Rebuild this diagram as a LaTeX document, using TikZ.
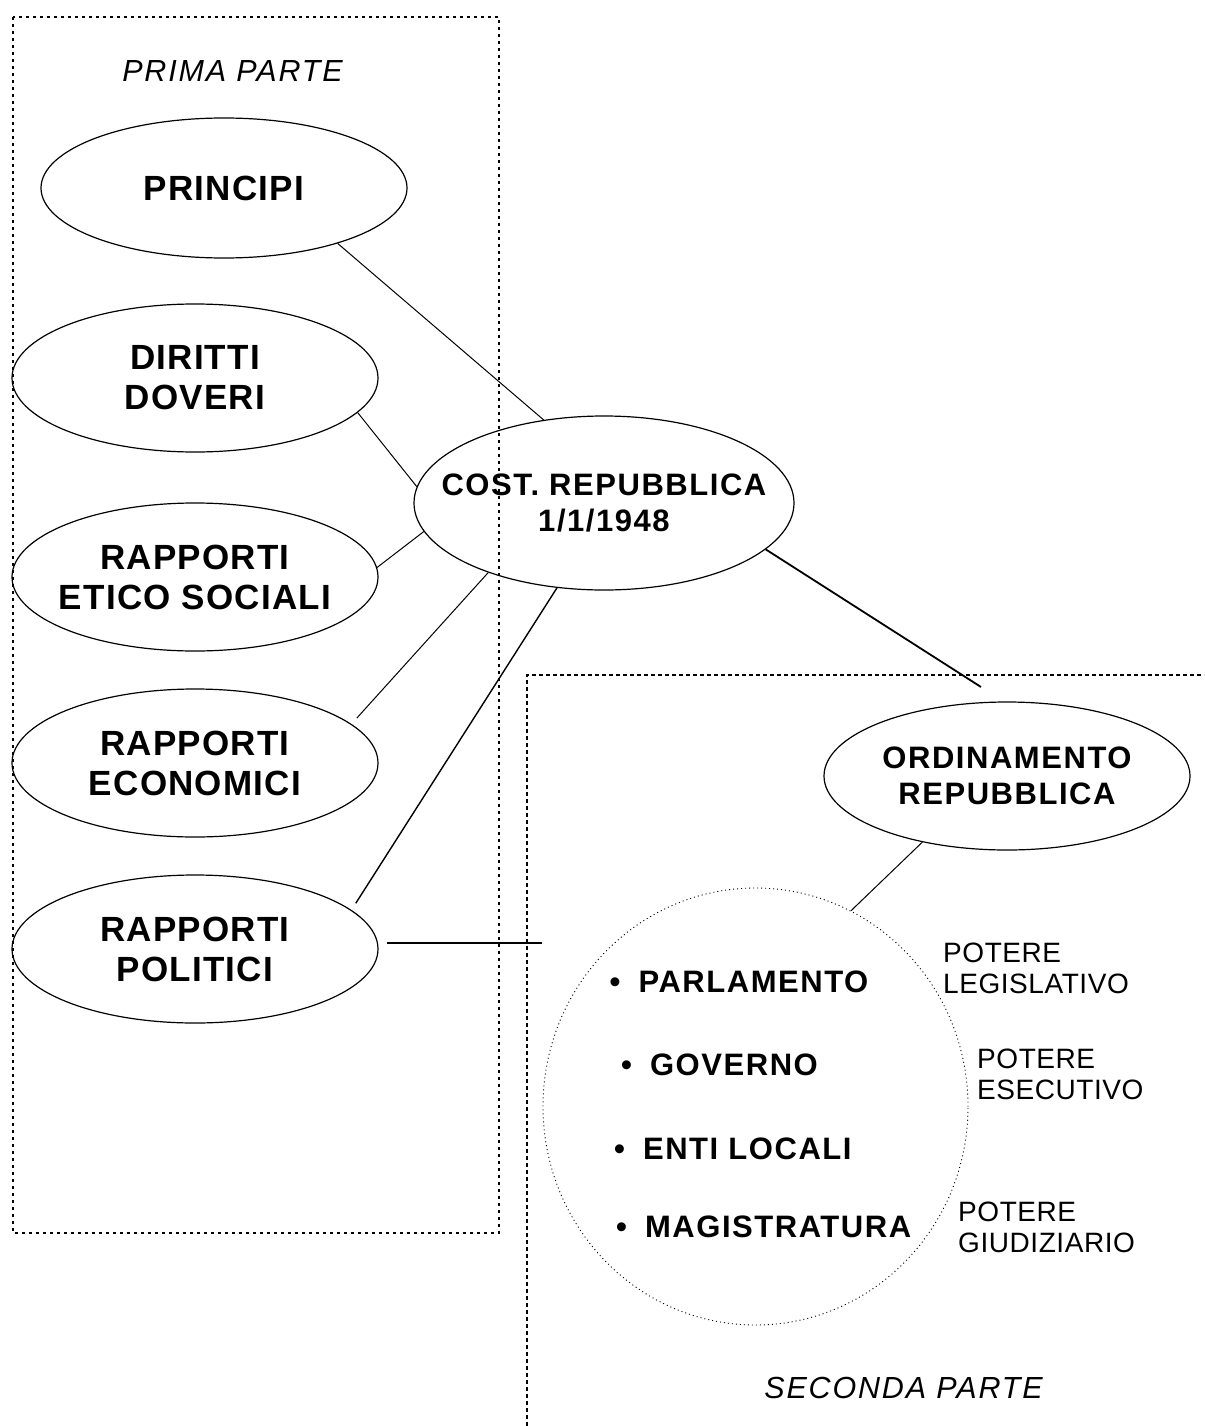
\documentclass[tikz,border=0pt]{standalone}
\usepackage{fontspec}
\setmainfont{Liberation Sans}
\newfontfamily\ellfont{Liberation Sans}[LetterSpace=3.5]
\newfontfamily\capfont{Liberation Sans}[LetterSpace=5]
\newfontfamily\potfont{Liberation Sans}[LetterSpace=2]
\newfontfamily\partfont{Liberation Sans}[LetterSpace=6]
\usetikzlibrary{shapes.geometric}
\newcommand{\orgitem}[1]{\textbullet\hspace{18pt}#1}
\tikzstyle{blob} = [ellipse, draw=black, line width=1.2pt, inner sep=0pt, minimum width=366pt, minimum height=148pt]
\tikzstyle{orbit} = [ellipse, draw=black, line width=0.9pt, dash pattern=on 1pt off 3pt, inner sep=0pt, minimum width=425pt, minimum height=437pt]
\tikzstyle{bigcap} = [align=center, inner sep=0pt, font={\ellfont\bfseries\fontsize{35pt}{40pt}\selectfont}]
\tikzstyle{midcap} = [align=center, inner sep=0pt, font={\capfont\bfseries\fontsize{31pt}{36.5pt}\selectfont}]
\tikzstyle{organ} = [midcap, anchor=west]
\tikzstyle{power} = [align=left, anchor=west, inner sep=0pt, font={\potfont\fontsize{28pt}{31pt}\selectfont}]
\tikzstyle{part} = [inner sep=0pt, font={\partfont\itshape\fontsize{30.5pt}{36pt}\selectfont}]
\tikzstyle{frame} = [line width=1.5pt, dash pattern=on 3pt off 4pt]
\tikzstyle{frame2} = [line width=2pt, dash pattern=on 4pt off 3pt]
\tikzstyle{link} = [line width=1pt]
\tikzstyle{bar} = [line width=1.8pt]

\begin{document}
\begin{tikzpicture}[x=1pt, y=-1pt, node distance=190pt]
    \useasboundingbox (0,0) rectangle (1204,1426);

    \draw [frame] (13,17) rectangle (499,1233);
    \draw [frame2] (527,1426) |- (1204,675);

    \node (principi) [blob, minimum height=140pt] at (224,188) {};
    \node (diritti) [blob, below of=principi, xshift=-29pt] {};
    \node (etico) [blob, below of=diritti, yshift=-9pt] {};
    \node (economici) [blob, below of=etico, yshift=4pt] {};
    \node (politici) [blob, below of=economici, yshift=4pt] {};
    \node (cost) [blob, minimum width=380pt, minimum height=174pt] at (604,503) {};
    \node (ordinamento) [blob] at (1007,776) {};
    \node (organi) [orbit] at (755.5,1106.5) {};

    \node (principi_txt) [bigcap] at (principi) {PRINCIPI};
    \node (diritti_txt) [bigcap] at (diritti) {DIRITTI\\DOVERI};
    \node (etico_txt) [bigcap] at (etico) {RAPPORTI\\ETICO SOCIALI};
    \node (economici_txt) [bigcap] at (economici) {RAPPORTI\\ECONOMICI};
    \node (politici_txt) [bigcap] at (politici) {RAPPORTI\\POLITICI};
    \node (cost_txt) [midcap] at (cost) {COST. REPUBBLICA\\1/1/1948};
    \node (ordinamento_txt) [midcap] at (ordinamento) {ORDINAMENTO\\REPUBBLICA};

    \node (parlamento) [organ] at (609.5,981.5) {\orgitem{PARLAMENTO}};
    \node (governo) [organ] at (621,1065) {\orgitem{GOVERNO}};
    \node (enti) [organ] at (614,1148.5) {\orgitem{ENTI LOCALI}};
    \node (magistratura) [organ] at (616,1227) {\orgitem{MAGISTRATURA}};

    \node (legislativo) [power] at (943,968) {POTERE\\LEGISLATIVO};
    \node (esecutivo) [power] at (977,1074) {POTERE\\ESECUTIVO};
    \node (giudiziario) [power] at (958,1227.5) {POTERE\\GIUDIZIARIO};

    \node (prima) [part] at (232.5,71) {PRIMA PARTE};
    \node (seconda) [part] at (903.5,1388) {SECONDA PARTE};

    \coordinate (boxhit) at (981,687);
    \coordinate (polend) at (542,945);

    \draw [link] (principi.-26) -- (cost.126);
    \draw [link] (diritti.-12) -- (cost.175);
    \draw [link] (etico.3) -- (cost.189);
    \draw [link, shorten <=8pt] (economici.14) -- (cost.211);
    \draw [link, line width=1.4pt, shorten <=8pt] (politici.14) -- (cost.241);
    \draw [bar, shorten <=9pt] (politici.2) -- (politici.2 -| polend);
    \draw [bar] (cost.-16) -- (boxhit);
    \draw [link] (ordinamento.218) -- (organi.64);

\end{tikzpicture}
\end{document}
